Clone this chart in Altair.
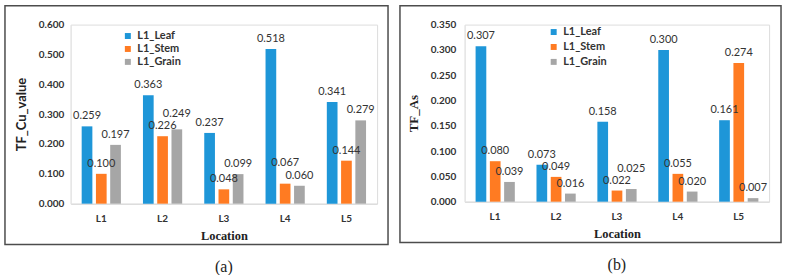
import altair as alt
import pandas as pd

locations = ["L1", "L2", "L3", "L4", "L5"]
series = ["L1_Leaf", "L1_Stem", "L1_Grain"]
colors = ["#1e96d8", "#ff7b22", "#a6a6a6"]

cu_leaf = [0.259, 0.363, 0.237, 0.518, 0.341]
cu_stem = [0.100, 0.226, 0.048, 0.067, 0.144]
cu_grain = [0.197, 0.249, 0.099, 0.060, 0.279]

as_leaf = [0.307, 0.073, 0.158, 0.300, 0.161]
as_stem = [0.080, 0.049, 0.022, 0.055, 0.274]
as_grain = [0.039, 0.016, 0.025, 0.020, 0.007]

cu_ticks = [0.0, 0.1, 0.2, 0.3, 0.4, 0.5, 0.6]
as_ticks = [0.0, 0.05, 0.10, 0.15, 0.20, 0.25, 0.30, 0.35]

SANS = "Lato"
SERIF = "Liberation Serif"

# extra lift (in pixels) for value labels that would collide with a neighbour
cu_label_lift = {("L2", "L1_Grain"): 5, ("L4", "L1_Stem"): 11}
as_label_lift = {("L3", "L1_Grain"): 10}


def to_frame(leaf, stem, grain, lifts):
    rows = []
    for name, vals in zip(series, [leaf, stem, grain]):
        for loc, v in zip(locations, vals):
            rows.append({"Location": loc, "Part": name, "value": v,
                         "lift": lifts.get((loc, name), 0)})
    return pd.DataFrame(rows)


def panel(df, ymax, ticks, ytitle, ytitle_font, w, h, leg_x, leg_y, leg_pad,
          label_pad, caption, frame):
    x_enc = alt.X("Location:N", sort=locations,
                  scale=alt.Scale(paddingInner=0.36, paddingOuter=0.18),
                  axis=alt.Axis(title="Location", labelAngle=0, ticks=False,
                                domainColor="#d9d9d9", labelPadding=10,
                                labelFont=SANS, labelFontWeight="bold",
                                labelFontSize=10, labelColor="#333333",
                                titleFont=SERIF, titleFontSize=12.5,
                                titleFontWeight="bold", titleColor="#222222",
                                titlePadding=6))
    xo_enc = alt.XOffset("Part:N", sort=series,
                         scale=alt.Scale(paddingInner=0.25))
    y_scale = alt.Scale(domain=[0, ymax], nice=False)
    y_axis = alt.Axis(title=ytitle, values=ticks, format=".3f",
                      grid=False, ticks=False, domainColor="#e6e6e6",
                      labelPadding=label_pad, labelFont=SANS,
                      labelFontWeight="bold", labelFontSize=10,
                      labelColor="#333333", titleFont=ytitle_font,
                      titleFontSize=13, titleFontWeight="bold",
                      titleColor="#222222", titlePadding=10,
                      labelOverlap=False)
    bars = alt.Chart(df).mark_bar().encode(
        x=x_enc,
        xOffset=xo_enc,
        y=alt.Y("value:Q", scale=y_scale, axis=y_axis),
        color=alt.Color("Part:N", sort=series,
                        scale=alt.Scale(domain=series, range=colors),
                        legend=alt.Legend(title=None, orient="none",
                                          legendX=leg_x, legendY=leg_y,
                                          symbolType="square", symbolSize=36,
                                          symbolStrokeWidth=0,
                                          labelFont=SANS, labelFontSize=11,
                                          labelFontWeight="bold",
                                          labelColor="#333333",
                                          rowPadding=leg_pad, labelOffset=4)),
    )
    px = ymax / h
    labels = alt.Chart(df).transform_calculate(
        label_y=f"datum.value + datum.lift * {px}"
    ).mark_text(baseline="middle", dy=-10, font=SANS, fontSize=11,
                color="#333333").encode(
        x=x_enc,
        xOffset=xo_enc,
        y=alt.Y("label_y:Q", scale=y_scale, axis=y_axis),
        text=alt.Text("value:Q", format=".3f"),
    )
    # panel frame and caption, positioned relative to the plot area
    border = alt.Chart(pd.DataFrame({"k": [0]})).mark_rect(
        fill=None, stroke="#4d4d4d", strokeWidth=1.5, clip=False
    ).encode(x=alt.value(frame[0]), x2=alt.value(frame[1]),
             y=alt.value(frame[2]), y2=alt.value(frame[3]))
    cap = alt.Chart(pd.DataFrame({"t": [caption]})).mark_text(
        font=SERIF, fontSize=16, color="#222222", baseline="middle"
    ).encode(text="t:N", x=alt.value(w / 2), y=alt.value(frame[3] + 23))
    return alt.layer(bars, labels, border, cap).properties(width=w, height=h)


cu_df = to_frame(cu_leaf, cu_stem, cu_grain, cu_label_lift)
as_df = to_frame(as_leaf, as_stem, as_grain, as_label_lift)

left = panel(cu_df, 0.6, cu_ticks, "TF_Cu_value", SANS, 308, 180,
             52, 6, 1, 7, "(a)", (-66, 319, -19, 221))
right = panel(as_df, 0.35, as_ticks, "TF_As", SERIF, 306, 178,
              84, 2, 3, 9, "(b)", (-65, 318, -19, 219))

chart = alt.hconcat(left, right, spacing=88, bounds="flush").resolve_scale(
    color="independent", x="independent", y="independent"
).resolve_legend(color="independent").properties(
    padding={"left": 3, "top": 3, "right": 3, "bottom": 1}
).configure_view(stroke=None).configure(background="white")

chart.save("out.html", embed_options={"renderer": "svg", "actions": False})
